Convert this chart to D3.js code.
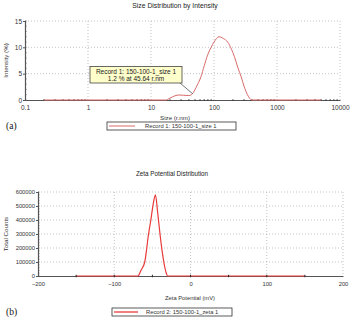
<!DOCTYPE html>
<html>
<head>
<meta charset="utf-8">
<script src="https://cdn.jsdelivr.net/npm/d3@7"></script>
<style>
  body { margin: 0; background: #fff; }
  svg { display: block; font-family: "Liberation Sans", Arial, sans-serif; }
</style>
</head>
<body>
<svg id="chart" width="350" height="327"></svg>
<script>
// Size distribution (top)
const sizeNm = [0.2, 17, 20, 24, 28, 33, 40, 45.64, 52, 62, 70, 79, 90, 100, 120, 140, 165, 190, 210, 240, 270, 300, 340, 400, 5000];
const sizeIntensity = [0, 0, 0.35, 0.8, 0.95, 0.9, 0.85, 1.2, 2.4, 4.4, 6.5, 8.5, 10, 11, 12, 11.7, 11, 9.6, 8.3, 6.1, 4.4, 2.6, 1, 0, 0];
const sizeTicks = [0.1, 1, 10, 100, 1000, 10000];
const intensityTicks = [0, 5, 10, 15];

// Zeta potential (bottom)
const zetaMv = [-150, -69, -65, -60, -55, -52, -49, -46, -43, -40, -37, -35, -32, -30, 150];
const zetaCounts = [0, 0, 40000, 100000, 300000, 400000, 510000, 580000, 450000, 300000, 170000, 100000, 25000, 0, 0];
const zetaTicks = [-200, -100, 0, 100, 200];
const countTicks = [0, 100000, 200000, 300000, 400000, 500000, 600000];

const svg = d3.select('#chart');
const gridColor = '#aaa';
const axisColor = '#555';

// ---------- top chart ----------
const x1 = d3.scaleLog().domain([0.1, 10000]).range([25, 340]);
const y1 = d3.scaleLinear().domain([0, 15]).range([100, 21]);

svg.append('text')
    .attr('x', 175).attr('y', 8)
    .attr('text-anchor', 'middle')
    .attr('font-size', '6.8px').attr('fill', '#222')
    .text('Size Distribution by Intensity');

// grid
const g1 = svg.append('g');
g1.selectAll('.vg').data(sizeTicks.slice(1)).enter().append('line')
    .attr('x1', d => x1(d)).attr('x2', d => x1(d))
    .attr('y1', y1(15)).attr('y2', y1(0))
    .attr('stroke', gridColor).attr('stroke-width', 0.7).attr('stroke-dasharray', '1,2');
g1.selectAll('.hg').data(intensityTicks.slice(1)).enter().append('line')
    .attr('x1', x1(0.1)).attr('x2', x1(10000))
    .attr('y1', d => y1(d)).attr('y2', d => y1(d))
    .attr('stroke', gridColor).attr('stroke-width', 0.7).attr('stroke-dasharray', '1,2');

// axes
const xAxis1 = svg.append('g').attr('transform', `translate(0,${y1(0)})`)
    .call(d3.axisBottom(x1).tickValues(sizeTicks).tickFormat(d => d3.format('~g')(d)).tickSize(0).tickPadding(5));
const yAxis1 = svg.append('g').attr('transform', `translate(${x1(0.1)},0)`)
    .call(d3.axisLeft(y1).tickValues(intensityTicks).tickSize(2).tickPadding(1));
[xAxis1, yAxis1].forEach(a => {
    a.select('.domain').attr('stroke', axisColor).attr('stroke-width', 1.2);
    a.selectAll('text').attr('font-size', '6.5px').attr('fill', '#333').attr('font-family', '"Liberation Sans", Arial, sans-serif');
    a.selectAll('line').attr('stroke', axisColor);
});
// minor ticks
const minorY1 = d3.range(0, 16, 1);
svg.append('g').selectAll('line').data(minorY1).enter().append('line')
    .attr('x1', x1(0.1)).attr('x2', x1(0.1) + 1.5)
    .attr('y1', d => y1(d)).attr('y2', d => y1(d))
    .attr('stroke', axisColor).attr('stroke-width', 0.8);
const minorX1 = [];
[0.1, 1, 10, 100, 1000].forEach(dec => { for (let k = 2; k <= 9; k++) minorX1.push(dec * k); });
svg.append('g').selectAll('line').data(minorX1).enter().append('line')
    .attr('x1', d => x1(d)).attr('x2', d => x1(d))
    .attr('y1', y1(0) - 1).attr('y2', y1(0) + 1)
    .attr('stroke', '#333').attr('stroke-width', 0.8);

// curve
const line1 = d3.line()
    .x((d, i) => x1(sizeNm[i]))
    .y(d => y1(d))
    .curve(d3.curveMonotoneX);
svg.append('path')
    .datum(sizeIntensity)
    .attr('d', line1)
    .attr('fill', 'none').attr('stroke', '#d86a6a').attr('stroke-width', 1);

// labels
svg.append('text')
    .attr('transform', `translate(8,${(y1(0) + y1(15)) / 2}) rotate(-90)`)
    .attr('text-anchor', 'middle').attr('font-size', '6.2px').attr('fill', '#333')
    .text('Intensity (%)');
svg.append('text')
    .attr('x', 175).attr('y', 120)
    .attr('text-anchor', 'middle').attr('font-size', '6.2px').attr('fill', '#333')
    .text('Size (r.nm)');

// tooltip annotation
const tipX = x1(45.64), tipY = y1(1.2);
svg.append('line')
    .attr('x1', 180).attr('y1', 83).attr('x2', tipX).attr('y2', tipY)
    .attr('stroke', '#555').attr('stroke-width', 0.8);
svg.append('rect')
    .attr('x', 90).attr('y', 66.5).attr('width', 92).attr('height', 16.5)
    .attr('fill', '#ffffcc').attr('stroke', '#444').attr('stroke-width', 0.8);
svg.append('text')
    .attr('x', 136).attr('y', 73.5).attr('text-anchor', 'middle')
    .attr('font-size', '6.5px').attr('fill', '#222')
    .text('Record 1: 150-100-1_size 1');
svg.append('text')
    .attr('x', 136).attr('y', 81).attr('text-anchor', 'middle')
    .attr('font-size', '6.5px').attr('fill', '#222')
    .text('1.2 % at 45.64 r.nm');

// panel label + legend
svg.append('text')
    .attr('x', 6).attr('y', 128.5)
    .attr('font-family', '"Liberation Serif", "Times New Roman", serif')
    .attr('font-size', '9.5px').attr('fill', '#111')
    .text('(a)');
svg.append('rect')
    .attr('x', 107).attr('y', 122).attr('width', 129).attr('height', 8)
    .attr('fill', '#fff').attr('stroke', '#333').attr('stroke-width', 0.8);
svg.append('line')
    .attr('x1', 109).attr('x2', 135).attr('y1', 126).attr('y2', 126)
    .attr('stroke', '#d86a6a').attr('stroke-width', 1);
svg.append('text')
    .attr('x', 145).attr('y', 128.2)
    .attr('font-size', '5.8px').attr('fill', '#333')
    .text('Record 1: 150-100-1_size 1');

// ---------- bottom chart ----------
const x2 = d3.scaleLinear().domain([-200, 200]).range([38, 343]);
const y2 = d3.scaleLinear().domain([0, 600000]).range([276, 192]);

svg.append('text')
    .attr('x', 172).attr('y', 175.5)
    .attr('text-anchor', 'middle')
    .attr('font-size', '6.3px').attr('fill', '#222')
    .text('Zeta Potential Distribution');

const g2 = svg.append('g');
g2.selectAll('.vg').data(zetaTicks.slice(1)).enter().append('line')
    .attr('x1', d => x2(d)).attr('x2', d => x2(d))
    .attr('y1', y2(600000)).attr('y2', y2(0))
    .attr('stroke', gridColor).attr('stroke-width', 0.7).attr('stroke-dasharray', '1,2');
g2.selectAll('.hg').data(countTicks.slice(1)).enter().append('line')
    .attr('x1', x2(-200)).attr('x2', x2(200))
    .attr('y1', d => y2(d)).attr('y2', d => y2(d))
    .attr('stroke', gridColor).attr('stroke-width', 0.7).attr('stroke-dasharray', '1,2');

const xAxis2 = svg.append('g').attr('transform', `translate(0,${y2(0)})`)
    .call(d3.axisBottom(x2).tickValues(zetaTicks).tickSize(0).tickPadding(6));
const yAxis2 = svg.append('g').attr('transform', `translate(${x2(-200)},0)`)
    .call(d3.axisLeft(y2).tickValues(countTicks).tickFormat(d3.format('d')).tickSize(2).tickPadding(1));
[xAxis2, yAxis2].forEach(a => {
    a.select('.domain').attr('stroke', axisColor).attr('stroke-width', 1.2);
    a.selectAll('text').attr('font-size', '5.8px').attr('fill', '#333').attr('font-family', '"Liberation Sans", Arial, sans-serif');
    a.selectAll('line').attr('stroke', axisColor);
});
svg.append('g').selectAll('line').data(d3.range(0, 600001, 20000)).enter().append('line')
    .attr('x1', x2(-200)).attr('x2', x2(-200) + 1.5)
    .attr('y1', d => y2(d)).attr('y2', d => y2(d))
    .attr('stroke', axisColor).attr('stroke-width', 0.6);

const line2 = d3.line()
    .x((d, i) => x2(zetaMv[i]))
    .y(d => y2(d))
    .curve(d3.curveMonotoneX);
svg.append('path')
    .datum(zetaCounts)
    .attr('d', line2)
    .attr('fill', 'none').attr('stroke', '#e83a3a').attr('stroke-width', 1.2);

svg.append('g').selectAll('line').data(d3.range(-150, 151, 50)).enter().append('line')
    .attr('x1', d => x2(d)).attr('x2', d => x2(d))
    .attr('y1', y2(0) - 1.2).attr('y2', y2(0) + 1.2)
    .attr('stroke', '#222').attr('stroke-width', 1);

svg.append('text')
    .attr('transform', `translate(8,${(y2(0) + y2(600000)) / 2}) rotate(-90)`)
    .attr('text-anchor', 'middle').attr('font-size', '6.2px').attr('fill', '#333')
    .text('Total Counts');
svg.append('text')
    .attr('x', 190).attr('y', 300)
    .attr('text-anchor', 'middle').attr('font-size', '5.8px').attr('fill', '#333')
    .text('Zeta Potential (mV)');

svg.append('text')
    .attr('x', 6).attr('y', 315)
    .attr('font-family', '"Liberation Serif", "Times New Roman", serif')
    .attr('font-size', '9.5px').attr('fill', '#111')
    .text('(b)');
svg.append('rect')
    .attr('x', 112).attr('y', 308).attr('width', 120).attr('height', 8)
    .attr('fill', '#fff').attr('stroke', '#333').attr('stroke-width', 0.8);
svg.append('line')
    .attr('x1', 114).attr('x2', 138).attr('y1', 312).attr('y2', 312)
    .attr('stroke', '#e83a3a').attr('stroke-width', 1.3);
svg.append('text')
    .attr('x', 146).attr('y', 314.2)
    .attr('font-size', '5.8px').attr('fill', '#333')
    .text('Record 2: 150-100-1_zeta 1');
</script>
</body>
</html>
